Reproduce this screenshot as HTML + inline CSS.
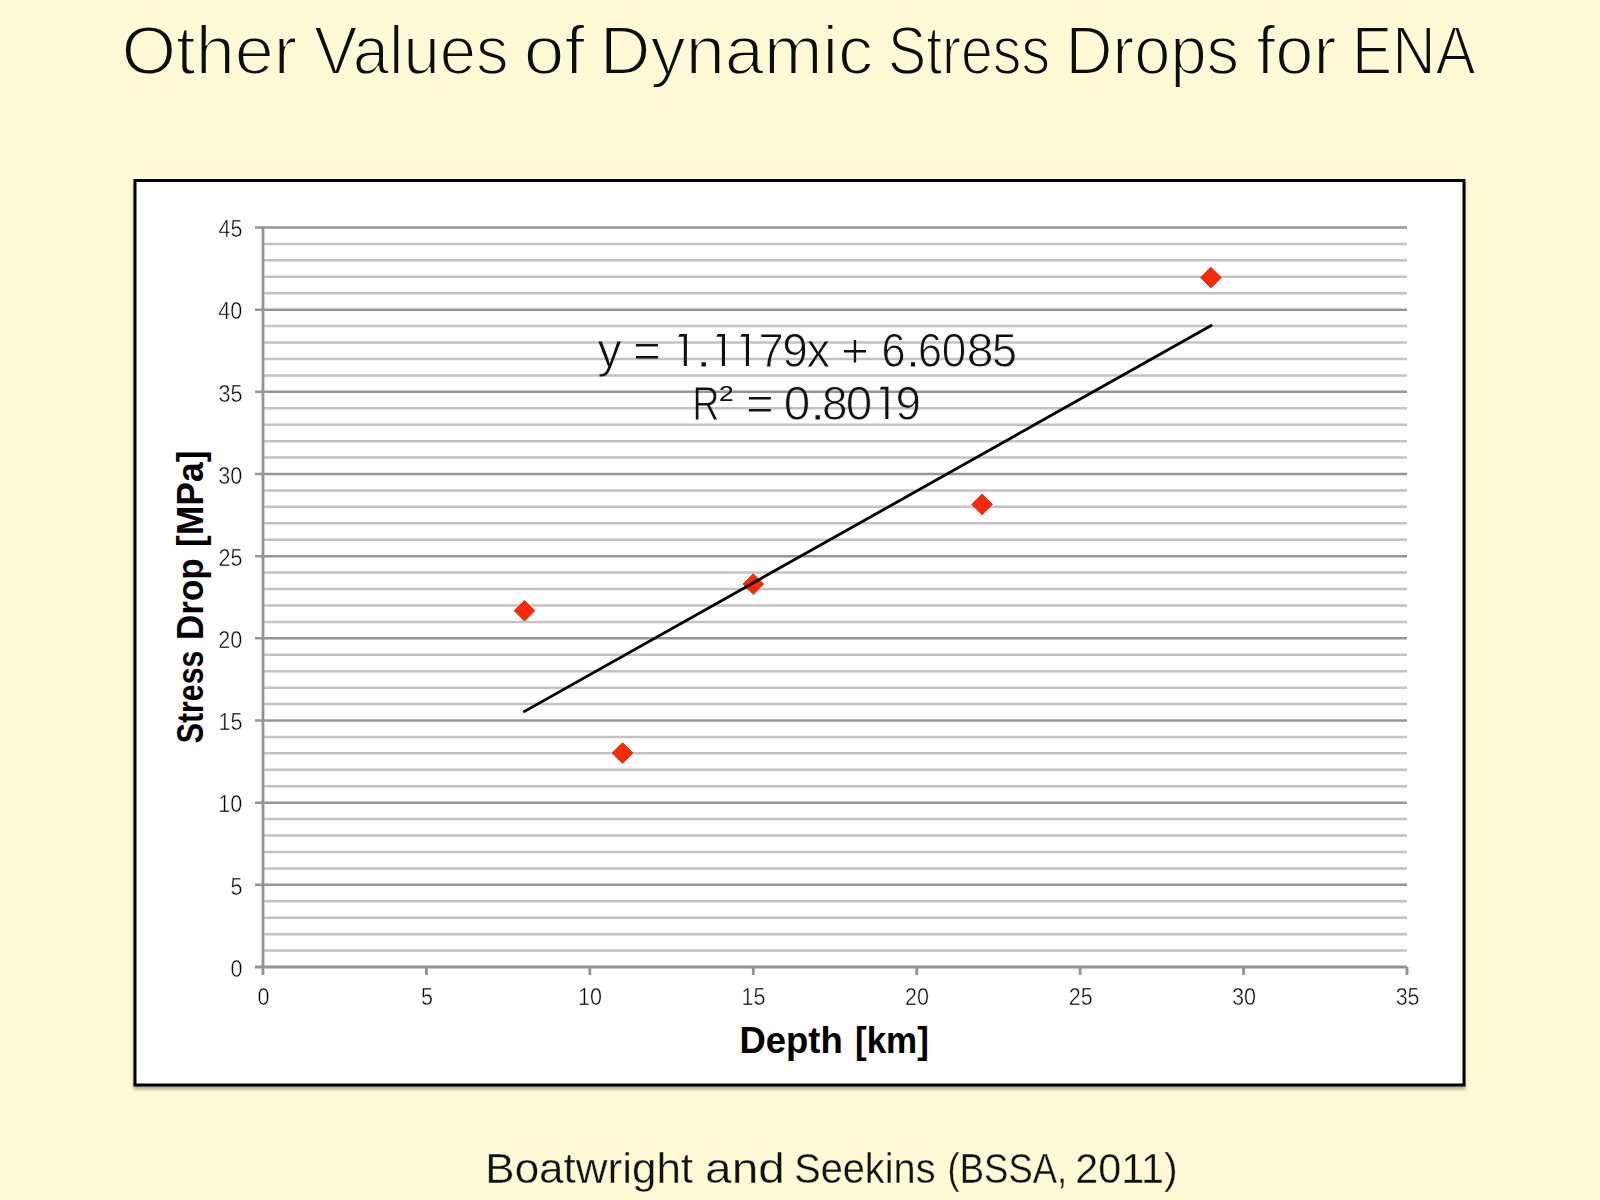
<!DOCTYPE html>
<html><head><meta charset="utf-8"><title>Other Values of Dynamic Stress Drops for ENA</title>
<style>
html,body{margin:0;padding:0;background:#FFF9D6;}
body{width:1600px;height:1200px;overflow:hidden;}
svg{display:block;}
text{font-family:"Liberation Sans",sans-serif;}
</style></head><body>
<svg width="1600" height="1200" viewBox="0 0 1600 1200">
<defs>
<filter id="sh" x="-5%" y="-5%" width="110%" height="110%">
<feGaussianBlur in="SourceAlpha" stdDeviation="1.8"/>
<feOffset dx="0.3" dy="3" result="b"/>
<feComponentTransfer><feFuncA type="linear" slope="0.3"/></feComponentTransfer>
<feMerge><feMergeNode/><feMergeNode in="SourceGraphic"/></feMerge>
</filter>
<mask id="mt" maskUnits="userSpaceOnUse" x="0" y="0" width="1600" height="1200"><g fill="#fff" stroke="#000" stroke-width="2.0" paint-order="fill"><text x="121.46" y="73.50" font-size="68.36" textLength="175.79" lengthAdjust="spacingAndGlyphs">Other</text><text x="314.06" y="73.50" font-size="68.36" textLength="194.58" lengthAdjust="spacingAndGlyphs">Values</text><text x="523.86" y="73.50" font-size="68.36" textLength="60.89" lengthAdjust="spacingAndGlyphs">of</text><text x="599.84" y="73.50" font-size="68.36" textLength="273.42" lengthAdjust="spacingAndGlyphs">Dynamic</text><text x="888.09" y="73.50" font-size="68.36" textLength="161.88" lengthAdjust="spacingAndGlyphs">Stress</text><text x="1065.56" y="73.50" font-size="68.36" textLength="173.58" lengthAdjust="spacingAndGlyphs">Drops</text><text x="1256.20" y="73.50" font-size="68.36" textLength="80.14" lengthAdjust="spacingAndGlyphs">for</text><text x="1352.06" y="73.50" font-size="68.36" textLength="123.69" lengthAdjust="spacingAndGlyphs">ENA</text></g></mask>
<mask id="ml" maskUnits="userSpaceOnUse" x="0" y="0" width="1600" height="1200"><g fill="#fff" stroke="#000" stroke-width="0.6" paint-order="fill"><text x="230.44" y="976.70" font-size="23.18" textLength="11.99" lengthAdjust="spacingAndGlyphs">0</text><text x="230.44" y="894.53" font-size="23.18" textLength="11.99" lengthAdjust="spacingAndGlyphs">5</text><text x="218.35" y="812.37" font-size="23.18" textLength="23.98" lengthAdjust="spacingAndGlyphs">10</text><text x="218.58" y="730.20" font-size="23.18" textLength="23.98" lengthAdjust="spacingAndGlyphs">15</text><text x="218.35" y="648.03" font-size="23.18" textLength="23.98" lengthAdjust="spacingAndGlyphs">20</text><text x="218.58" y="565.87" font-size="23.18" textLength="23.98" lengthAdjust="spacingAndGlyphs">25</text><text x="218.35" y="483.70" font-size="23.18" textLength="23.98" lengthAdjust="spacingAndGlyphs">30</text><text x="218.58" y="401.53" font-size="23.18" textLength="23.98" lengthAdjust="spacingAndGlyphs">35</text><text x="218.35" y="319.37" font-size="23.18" textLength="23.98" lengthAdjust="spacingAndGlyphs">40</text><text x="218.58" y="237.20" font-size="23.18" textLength="23.98" lengthAdjust="spacingAndGlyphs">45</text><text x="257.56" y="1004.90" font-size="23.18" textLength="11.99" lengthAdjust="spacingAndGlyphs">0</text><text x="420.98" y="1004.90" font-size="23.18" textLength="11.99" lengthAdjust="spacingAndGlyphs">5</text><text x="578.02" y="1004.90" font-size="23.18" textLength="23.98" lengthAdjust="spacingAndGlyphs">10</text><text x="741.56" y="1004.90" font-size="23.18" textLength="23.98" lengthAdjust="spacingAndGlyphs">15</text><text x="905.11" y="1004.90" font-size="23.18" textLength="23.98" lengthAdjust="spacingAndGlyphs">20</text><text x="1068.65" y="1004.90" font-size="23.18" textLength="23.98" lengthAdjust="spacingAndGlyphs">25</text><text x="1232.08" y="1004.90" font-size="23.18" textLength="23.98" lengthAdjust="spacingAndGlyphs">30</text><text x="1395.63" y="1004.90" font-size="23.18" textLength="23.98" lengthAdjust="spacingAndGlyphs">35</text></g></mask>
<mask id="me" maskUnits="userSpaceOnUse" x="0" y="0" width="1600" height="1200"><g fill="#fff" stroke="#000" stroke-width="1.0" paint-order="fill"><text x="597.45" y="366.50" font-size="47.21" textLength="24.07" lengthAdjust="spacingAndGlyphs">y</text><text x="633.03" y="366.50" font-size="47.21" textLength="27.82" lengthAdjust="spacingAndGlyphs">=</text><text x="758.49" y="366.50" font-size="47.21" textLength="25.29" lengthAdjust="spacingAndGlyphs">7</text><text x="782.31" y="366.50" font-size="47.21" textLength="25.60" lengthAdjust="spacingAndGlyphs">9</text><text x="695.52" y="366.50" font-size="47.21" textLength="16.41" lengthAdjust="spacingAndGlyphs">.</text><text x="806.40" y="366.50" font-size="47.21" textLength="23.61" lengthAdjust="spacingAndGlyphs">x</text><text x="840.92" y="366.50" font-size="47.21" textLength="27.94" lengthAdjust="spacingAndGlyphs">+</text><text x="881.43" y="366.50" font-size="47.21" textLength="24.12" lengthAdjust="spacingAndGlyphs">6</text><text x="905.19" y="366.50" font-size="47.21" textLength="15.46" lengthAdjust="spacingAndGlyphs">.</text><text x="917.94" y="366.50" font-size="47.21" textLength="24.00" lengthAdjust="spacingAndGlyphs">6</text><text x="941.67" y="366.50" font-size="47.21" textLength="24.48" lengthAdjust="spacingAndGlyphs">0</text><text x="966.76" y="366.50" font-size="47.21" textLength="26.80" lengthAdjust="spacingAndGlyphs">8</text><text x="991.99" y="366.50" font-size="47.21" textLength="25.03" lengthAdjust="spacingAndGlyphs">5</text><text x="692.35" y="419.50" font-size="47.21" textLength="27.28" lengthAdjust="spacingAndGlyphs">R</text><text x="746.04" y="419.50" font-size="47.21" textLength="27.70" lengthAdjust="spacingAndGlyphs">=</text><text x="783.83" y="419.50" font-size="47.21" textLength="26.55" lengthAdjust="spacingAndGlyphs">0</text><text x="809.58" y="419.50" font-size="47.21" textLength="16.41" lengthAdjust="spacingAndGlyphs">.</text><text x="822.06" y="419.50" font-size="47.21" textLength="25.50" lengthAdjust="spacingAndGlyphs">8</text><text x="845.73" y="419.50" font-size="47.21" textLength="26.55" lengthAdjust="spacingAndGlyphs">0</text><text x="895.42" y="419.50" font-size="47.21" textLength="25.48" lengthAdjust="spacingAndGlyphs">9</text><text stroke-width="0" x="719.13" y="401.40" font-size="22.5" textLength="14.66" lengthAdjust="spacingAndGlyphs">2</text></g></mask>
<mask id="mf" maskUnits="userSpaceOnUse" x="0" y="0" width="1600" height="1200"><g fill="#fff" stroke="#000" stroke-width="0.5" paint-order="fill"><text x="485.35" y="1183.15" font-size="42.76" textLength="207.74" lengthAdjust="spacingAndGlyphs">Boatwright</text><text x="705.09" y="1183.15" font-size="42.76" textLength="79.82" lengthAdjust="spacingAndGlyphs">and</text><text x="794.19" y="1183.15" font-size="42.76" textLength="141.34" lengthAdjust="spacingAndGlyphs">Seekins</text><text x="947.62" y="1183.15" font-size="42.76" textLength="119.56" lengthAdjust="spacingAndGlyphs">(BSSA,</text><text x="1075.32" y="1183.15" font-size="42.76" textLength="102.51" lengthAdjust="spacingAndGlyphs">2011)</text></g></mask>
</defs>
<rect width="1600" height="1200" fill="#FFF9D6"/>
<rect width="1600" height="1200" fill="#0d0d0d" mask="url(#mt)"/>
<rect x="135" y="180.5" width="1329" height="904.5" fill="#fff" stroke="#000" stroke-width="3" filter="url(#sh)"/>
<path d="M264 950.57H1407 M264 934.13H1407 M264 917.70H1407 M264 901.27H1407 M264 868.40H1407 M264 851.97H1407 M264 835.53H1407 M264 819.10H1407 M264 786.23H1407 M264 769.80H1407 M264 753.37H1407 M264 736.93H1407 M264 704.07H1407 M264 687.63H1407 M264 671.20H1407 M264 654.77H1407 M264 621.90H1407 M264 605.47H1407 M264 589.03H1407 M264 572.60H1407 M264 539.73H1407 M264 523.30H1407 M264 506.87H1407 M264 490.43H1407 M264 457.57H1407 M264 441.13H1407 M264 424.70H1407 M264 408.27H1407 M264 375.40H1407 M264 358.97H1407 M264 342.53H1407 M264 326.10H1407 M264 293.23H1407 M264 276.80H1407 M264 260.37H1407 M264 243.93H1407" stroke="#c3c3c3" stroke-width="2.5" fill="none"/>
<path d="M255 884.83H1407 M255 802.67H1407 M255 720.50H1407 M255 638.33H1407 M255 556.17H1407 M255 474.00H1407 M255 391.83H1407 M255 309.67H1407 M255 227.50H1407" stroke="#969696" stroke-width="2.5" fill="none"/>
<path d="M255 967.0H1407 M263.0 226.50V975 M426.43 967.0V975 M589.86 967.0V975 M753.29 967.0V975 M916.71 967.0V975 M1080.14 967.0V975 M1243.57 967.0V975 M1407.00 967.0V975" stroke="#939393" stroke-width="2.8" fill="none"/>
<rect width="1600" height="1200" fill="#000" mask="url(#ml)"/>
<path d="M524.49 600.43L534.79 610.73L524.49 621.03L514.19 610.73Z" fill="#FB2A06" stroke="#D8301A" stroke-width="1"/>
<path d="M622.54 742.74L632.84 753.04L622.54 763.34L612.24 753.04Z" fill="#FB2A06" stroke="#D8301A" stroke-width="1"/>
<path d="M753.29 573.80L763.59 584.10L753.29 594.40L742.99 584.10Z" fill="#FB2A06" stroke="#D8301A" stroke-width="1"/>
<path d="M982.09 494.10L992.39 504.40L982.09 514.70L971.79 504.40Z" fill="#FB2A06" stroke="#D8301A" stroke-width="1"/>
<path d="M1210.89 267.32L1221.19 277.62L1210.89 287.92L1200.59 277.62Z" fill="#FB2A06" stroke="#D8301A" stroke-width="1"/>
<line x1="524.49" y1="711.43" x2="1210.89" y2="325.65" stroke="#000" stroke-width="2.8" stroke-linecap="square"/>
<rect width="1600" height="1200" fill="#111" mask="url(#me)"/>
<path d="M678.30 336.80L679.60 334.00H686.90V366.00H683.80V336.80Z M716.40 336.80L717.70 334.00H725.00V366.00H721.90V336.80Z M740.40 336.80L741.70 334.00H749.00V366.00H745.90V336.80Z M879.80 389.60L881.10 386.80H888.40V419.00H885.30V389.60Z" fill="#111"/>
<text x="739.41" y="1052.75" font-size="36.6" font-weight="bold" textLength="103.33" lengthAdjust="spacingAndGlyphs" fill="#000">Depth</text>
<text x="854.99" y="1052.75" font-size="36.6" font-weight="bold" textLength="73.81" lengthAdjust="spacingAndGlyphs" fill="#000">[km]</text>
<g transform="translate(203.1 0) rotate(-90)">
<text x="-743.33" y="0.00" font-size="36.6" font-weight="bold" textLength="92.75" lengthAdjust="spacingAndGlyphs" fill="#000">Stress</text>
<text x="-639.88" y="0.00" font-size="36.6" font-weight="bold" textLength="81.40" lengthAdjust="spacingAndGlyphs" fill="#000">Drop</text>
<text x="-546.94" y="0.00" font-size="36.6" font-weight="bold" textLength="96.45" lengthAdjust="spacingAndGlyphs" fill="#000">[MPa]</text>
</g>
<rect width="1600" height="1200" fill="#111" mask="url(#mf)"/>
</svg>
</body></html>
